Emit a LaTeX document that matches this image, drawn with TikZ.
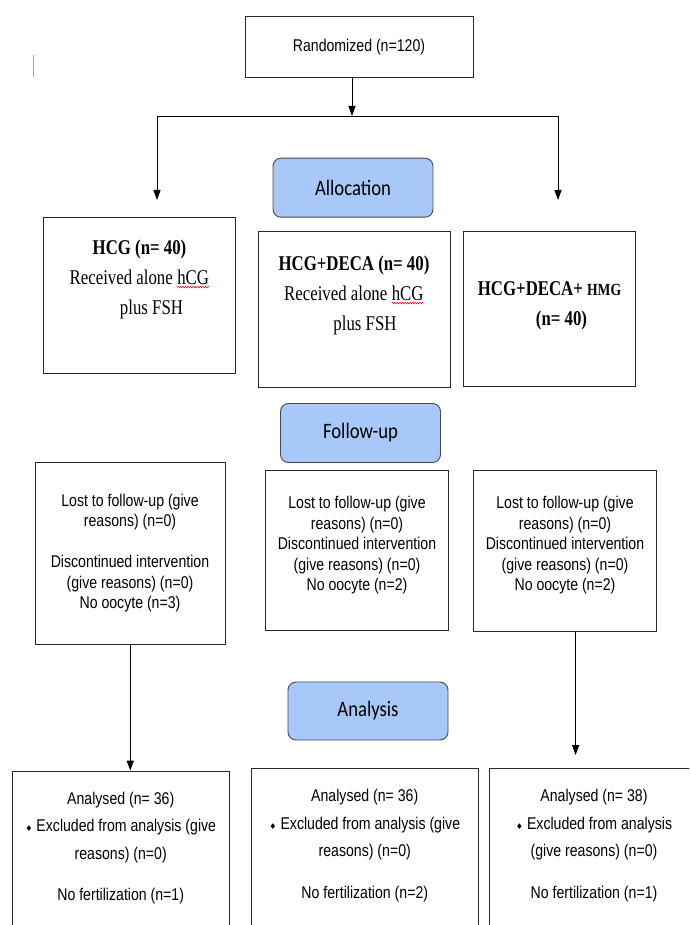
\documentclass[tikz,border=0pt]{standalone}
\usepackage{fontspec}
\usetikzlibrary{arrows.meta,decorations.pathmorphing}
\newfontfamily\serifc{Liberation Serif}[FakeStretch=0.8]
\newfontfamily\sansc{Liberation Sans}[FakeStretch=0.83]
\newfontfamily\calib{Carlito}[FakeStretch=0.85]
\newfontfamily\dejavu{DejaVu Sans}
\definecolor{labelblue}{RGB}{168,200,250}
\definecolor{edgegray}{RGB}{40,40,40}
\newcommand\redwave[1]{\tikz[baseline=(w.base),x=1pt,y=1pt]{\node[inner sep=0pt,outer sep=0pt](w){#1};\draw[red,line width=0.5pt,decorate,decoration={snake,amplitude=0.8pt,segment length=2.5pt}] ([yshift=-3pt]w.base west)--([yshift=-3pt]w.base east);}}
\newcommand\dbul{{\dejavu\fontsize{8}{8}\selectfont ♦}\hspace{4pt}}
\begin{document}
\begin{tikzpicture}[x=1pt,y=-1pt,
  plainbox/.style={draw=edgegray, line width=0.9pt, fill=white, inner sep=0pt},
  lbl/.style={draw=edgegray!85, line width=0.9pt, fill=labelblue, rounded corners=8pt,
    minimum width=160pt, minimum height=59pt, inner sep=0pt,
    font=\calib\fontsize{22}{24}\selectfont},
  stext/.style={align=center, inner sep=0pt, font=\sansc\fontsize{17}{20.5}\selectfont},
  btext/.style={align=center, inner sep=0pt, font=\sansc\fontsize{17}{27.5}\selectfont},
  rtext/.style={align=center, inner sep=0pt, font=\serifc\fontsize{21}{30}\selectfont},
  conn/.style={line width=0.9pt, draw=black},
  arr/.style={conn, -{Triangle[length=10pt,width=7pt]}},
  thickarr/.style={arr, line width=1.4pt}]
\useasboundingbox (0,0) rectangle (689,925);
\clip (0,0) rectangle (689,925);

% stray mark
\draw[gray!70, line width=0.8pt] (33,55) -- (33,77);

% top box
\node[plainbox, minimum width=228pt, minimum height=60.6pt,
      font=\sansc\fontsize{17}{20.5}\selectfont] (rand) at (359,47) {Randomized (n=120)};

% phase labels
\node[lbl] (alloc) at (353,187.7) {Allocation};
\node[lbl] (follow) at (360.5,433) {Follow-up};
\node[lbl, minimum height=58pt] (analysis) at (368,711) {Analysis};

% allocation boxes
\node[plainbox, minimum width=192.4pt, minimum height=156pt] (hcg) at (139.5,295.3) {};
\node[rtext] (hcgt) at (139.5,279) {\textbf{HCG (n= 40)}\\Received alone \redwave{hCG}\\\hspace*{24pt}plus FSH};

\node[plainbox, minimum width=192pt, minimum height=156pt] (deca) at (354,309.7) {};
\node[rtext] (decat) at (354,295) {\textbf{HCG+DECA (n= 40)}\\Received alone \redwave{hCG}\\\hspace*{22pt}plus FSH};

\node[plainbox, minimum width=172.4pt, minimum height=154.3pt] (hmg) at (549.5,308.9) {};
\node[rtext] (hmgt) at (549.5,306) {\textbf{HCG+DECA+ {\fontsize{17}{30}\selectfont HMG}}\\\hspace*{24pt}\textbf{(n= 40)}};

% follow-up boxes
\node[plainbox, minimum width=190.3pt, minimum height=181.6pt] (fl) at (130.25,553.5) {};
\node[stext] (flt) at (130,553) {Lost to follow-up (give\\reasons) (n=0)\\[20.5pt]Discontinued intervention\\(give reasons) (n=0)\\No oocyte (n=3)};

\node[plainbox, minimum width=183.2pt, minimum height=159.3pt] (fm) at (357,550.35) {};
\node[stext] (fmt) at (357,545.5) {Lost to follow-up (give\\reasons) (n=0)\\Discontinued intervention\\(give reasons) (n=0)\\No oocyte (n=2)};

\node[plainbox, minimum width=183.7pt, minimum height=161pt] (fr) at (565,551.2) {};
\node[stext] (frt) at (565,545.5) {Lost to follow-up (give\\reasons) (n=0)\\Discontinued intervention\\(give reasons) (n=0)\\No oocyte (n=2)};

% analysis boxes (cut off at the bottom)
\node[plainbox, minimum width=217.4pt, minimum height=229pt] (bl) at (120.7,885.5) {};
\node[btext] (blt) at (120.7,848) {Analysed (n= 36)\\\dbul Excluded from analysis (give\\reasons) (n=0)\\[14pt]No fertilization (n=1)};

\node[plainbox, minimum width=227.5pt, minimum height=231.7pt] (bm) at (364.75,884.15) {};
\node[btext] (bmt) at (364.75,845.5) {Analysed (n= 36)\\\dbul Excluded from analysis (give\\reasons) (n=0)\\[14pt]No fertilization (n=2)};

\node[plainbox, minimum width=208.5pt, minimum height=231.7pt] (br) at (593.75,884.15) {};
\node[btext] (brt) at (594,845.5) {Analysed (n= 38)\\\dbul Excluded from analysis\\(give reasons) (n=0)\\[14pt]No fertilization (n=1)};

% connectors
\coordinate (split) at (352,116);
\coordinate (lc) at (157,116);
\coordinate (rc) at (558,116);
\coordinate (la) at (157,200);
\coordinate (ra) at (558,200);
\coordinate (rb) at (575.6,755);
\draw[arr] (rand.south -| split) -- (split);
\draw[conn] (lc) -- (rc);
\draw[arr] (lc) -- (la);
\draw[arr] (rc) -- (ra);
\draw[thickarr] (fl.south) -- (bl.north -| fl.south);
\draw[thickarr] (fr.south -| rb) -- (rb);
\end{tikzpicture}
\end{document}
